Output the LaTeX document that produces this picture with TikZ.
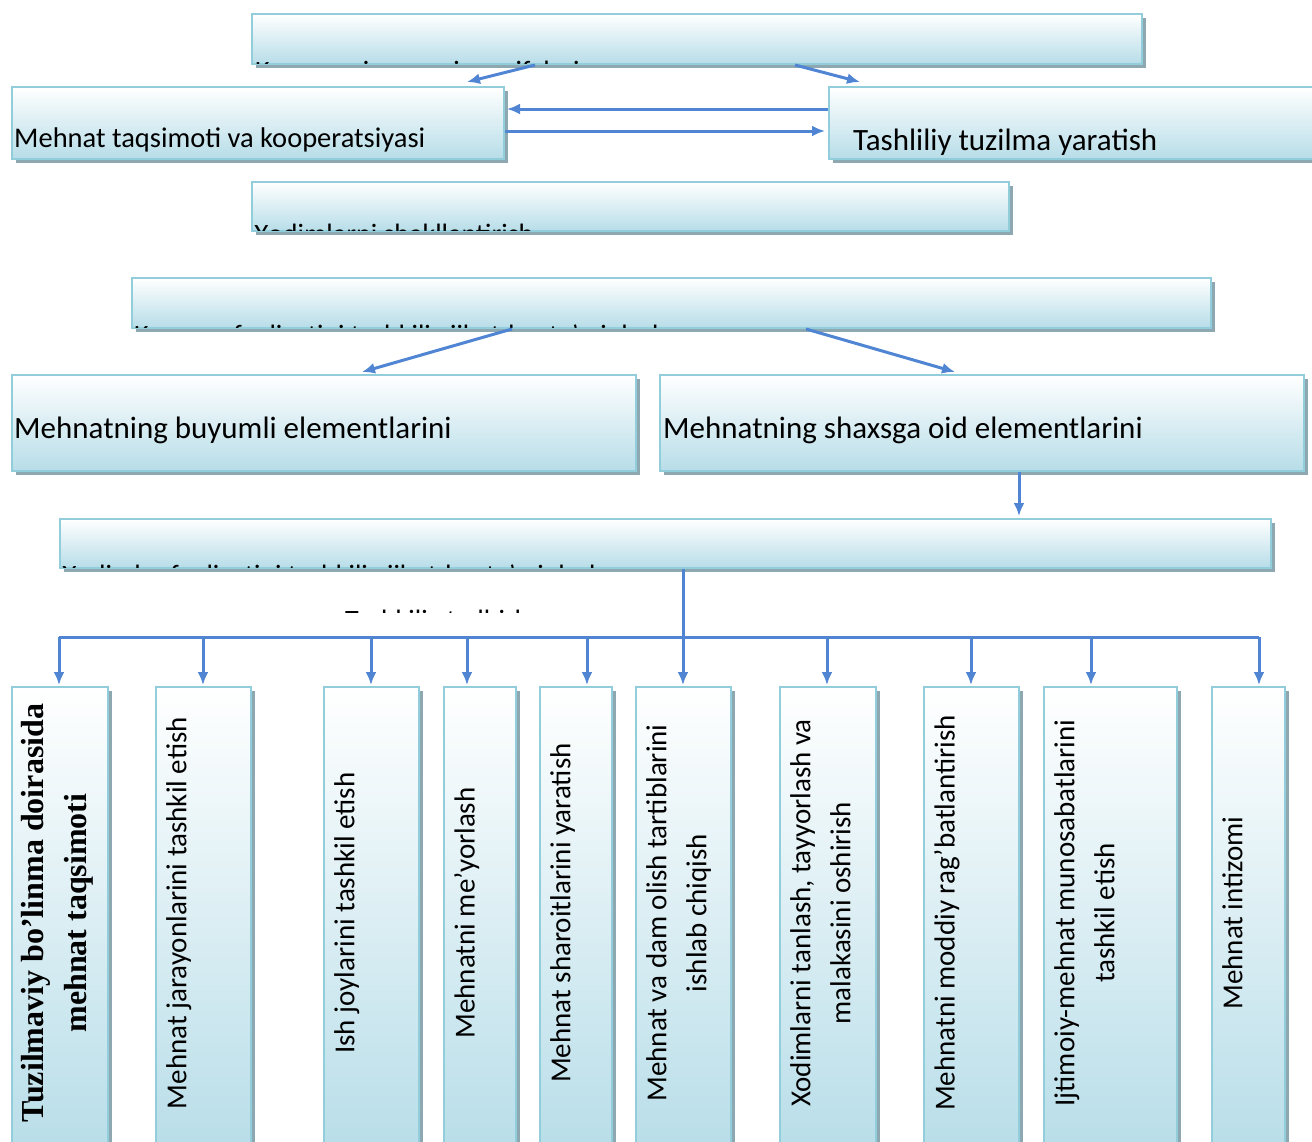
\documentclass[tikz,border=0pt]{standalone}
\usepackage{fontspec}
\setmainfont{Carlito}
\newfontfamily\timesfont{Liberation Serif}
\usetikzlibrary{arrows.meta,shadows}
\definecolor{boxline}{RGB}{146,205,220}
\definecolor{boxfill}{RGB}{183,221,232}
\definecolor{boxshadow}{RGB}{141,168,176}
\definecolor{linkblue}{RGB}{79,133,210}

\tikzset{
  box/.style={draw=boxline, line width=2pt, top color=white, bottom color=boxfill,
    anchor=north west, inner sep=0pt,
    general shadow={fill=boxshadow, shadow xshift=4pt, shadow yshift=-4pt}},
  link/.style={draw=linkblue, line width=3pt, -{Latex[length=13pt,width=11pt]}},
  bus/.style={draw=linkblue, line width=3pt},
  boxtext/.style={font=\fontsize{28}{34}\selectfont, anchor=base west, inner sep=0pt},
  bigtext/.style={boxtext, font=\fontsize{31}{37}\selectfont},
  coltext/.style={font=\fontsize{29}{40}\selectfont, rotate=90, anchor=north, align=center, inner sep=0pt},
}

\begin{document}
\begin{tikzpicture}[x=1pt, y=-1pt]
    \useasboundingbox (0,0) rectangle (1312,1141);

    % Top part: tasks, division of labour, structure
    \node[box, minimum width=890pt, minimum height=50pt] (duty) at (251,13) {};
    \node[box, minimum width=492pt, minimum height=72pt] (divide) at (11,86) {};
    \node[box, minimum width=492pt, minimum height=72pt] (struct) at (828,86) {};
    \node[box, minimum width=757pt, minimum height=49pt] (hire) at (251,181) {};
    \node[boxtext, font=\fontsize{28.5}{34}\selectfont] (dividetxt) at (14,147) {Mehnat taqsimoti va kooperatsiyasi};
    \node[bigtext] (structtxt) at (853,150) {Tashliliy tuzilma yaratish};

    % Texts that are cut by the lower edge of their box
    \begin{scope}
        \clip (duty.north west) rectangle ([yshift=2pt]duty.south east);
        \node[boxtext] (dutytxt) at (255,80) {Korxonaning asosiy vazifalari};
    \end{scope}
    \begin{scope}
        \clip (hire.north west) rectangle ([yshift=2pt]hire.south east);
        \node[boxtext] (hiretxt) at (254,243) {Xodimlarni shakllantirish};
    \end{scope}

    \draw[link] ([xshift=284pt]duty.south west) -- ([xshift=456pt,yshift=4pt]divide.north west);
    \draw[link] ([xshift=544pt]duty.south west) -- ([xshift=32pt,yshift=4pt]struct.north west);
    \draw[link] ([yshift=-23pt]struct.north west) -- ([xshift=2pt,yshift=-23pt]divide.north east);
    \draw[link] ([yshift=-45pt]divide.north east) -- ([xshift=-3pt,yshift=-45pt]struct.north west);

    % Middle part: elements of labour
    \node[box, minimum width=1079pt, minimum height=50pt] (firm) at (131,277) {};
    \node[box, minimum width=624pt, minimum height=96pt] (things) at (11,374) {};
    \node[box, minimum width=644pt, minimum height=96pt] (people) at (659,374) {};
    \node[box, minimum width=1211pt, minimum height=49pt] (staff) at (59,518) {};
    \node[bigtext] (thingstxt) at (14,438) {Mehnatning buyumli elementlarini};
    \node[bigtext] (peopletxt) at (663,438) {Mehnatning shaxsga oid elementlarini};

    \begin{scope}
        \clip (firm.north west) rectangle ([yshift=2pt]firm.south east);
        \node[boxtext] (firmtxt) at (134,344) {Korxona faoliyatini tashkiliy jihatdan ta’minlash};
    \end{scope}
    \begin{scope}
        \clip (staff.north west) rectangle ([yshift=2pt]staff.south east);
        \node[boxtext] (stafftxt) at (62,584) {Xodimlar faoliyatini tashkiliy jihatdan ta’minlash};
    \end{scope}
    \begin{scope}
        \clip (330,585) rectangle (700,612);
        \node[boxtext] (measurestxt) at (345,629) {Tashkiliy tadbirlar};
    \end{scope}

    \draw[link] ([xshift=381pt]firm.south west) -- ([xshift=351pt,yshift=2pt]things.north west);
    \draw[link] ([xshift=675pt]firm.south west) -- ([xshift=296pt,yshift=2pt]people.north west);
    \draw[link] ([xshift=360pt]people.south west) -- ([xshift=960pt,yshift=2pt]staff.north west);

    % Bottom part: the ten columns
    \node[box, minimum width=96pt, minimum height=470pt] (col1) at (11,686) {};
    \node[coltext, font=\timesfont\bfseries\fontsize{32}{43}\selectfont] (col1txt)
        at ([xshift=10pt,yshift=-227pt]col1.north west) {Tuzilmaviy bo’linma doirasida\\mehnat taqsimoti};
    \coordinate (top1) at ([xshift=48pt]col1.north west);
    \foreach \i/\x/\w/\off/\txt in {
        2/155/95/48/{Mehnat jarayonlarini tashkil etish},
        3/323/95/48/{Ish joylarini tashkil etish},
        4/443/72/24/{Mehnatni me’yorlash},
        5/539/72/48/{Mehnat sharoitlarini yaratish},
        6/635/95/48/{Mehnat va dam olish tartiblarini\\ishlab chiqish},
        7/779/96/48/{Xodimlarni tanlash, tayyorlash va\\malakasini oshirish},
        8/923/95/48/{Mehnatni moddiy rag’batlantirish},
        9/1043/133/48/{Ijtimoiy-mehnat munosabatlarini\\tashkil etish},
        10/1211/73/48/{Mehnat intizomi}} {
        \node[box, minimum width=\w pt, minimum height=470pt] (col\i) at (\x,686) {};
        \node[coltext] (col\i txt) at ([xshift=11pt,yshift=-227pt]col\i.north west) {\txt};
        \coordinate (top\i) at ([xshift=\off pt]col\i.north west);
    }

    % Bus from the last wide box to all columns
    \coordinate (busL) at (59,637);
    \coordinate (busR) at (1259,637);
    \draw[bus] ([xshift=624pt]staff.south west) -- (top6 |- busL);
    \draw[bus] (busL) -- (busR);
    \foreach \i in {1,...,10} {
        \draw[link] (top\i |- busL) -- ([yshift=1pt]top\i);
    }
\end{tikzpicture}
\end{document}
